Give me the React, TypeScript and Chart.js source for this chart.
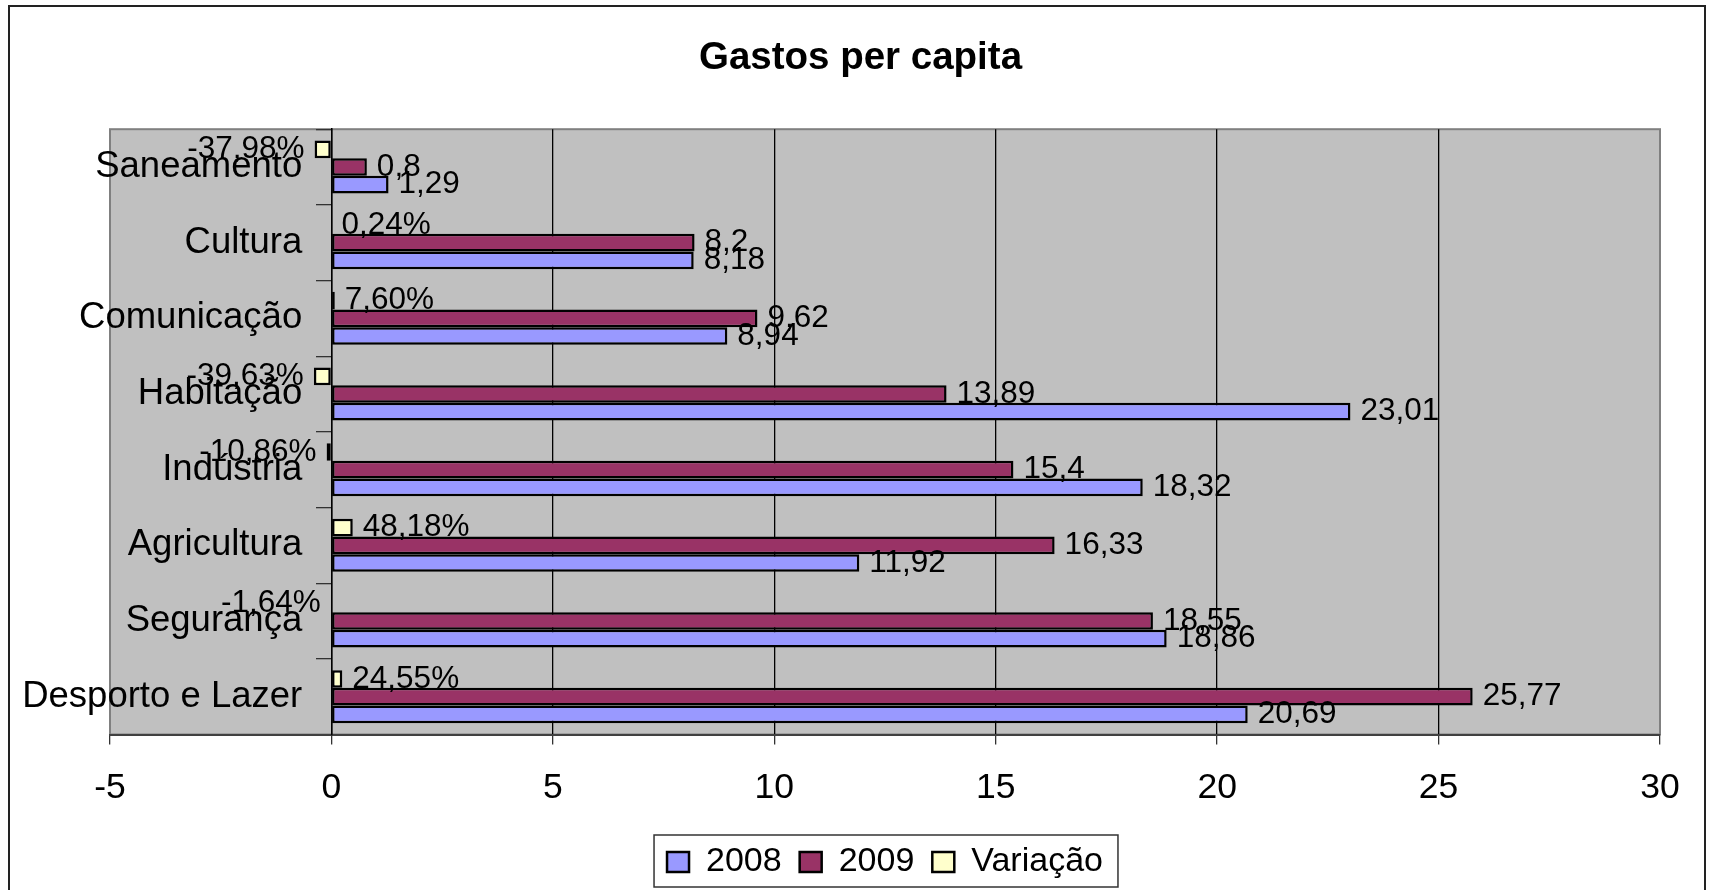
import React, { useEffect, useRef } from 'react';
import { Chart, registerables } from 'chart.js';

Chart.register(...registerables);

const categories = ['Saneamento', 'Cultura', 'Comunicação', 'Habitação', 'Indústria', 'Agricultura', 'Segurança', 'Desporto e Lazer'];
const values2008 = [1.29, 8.18, 8.94, 23.01, 18.32, 11.92, 18.86, 20.69];
const values2009 = [0.8, 8.2, 9.62, 13.89, 15.4, 16.33, 18.55, 25.77];
const variacao = [-0.3798, 0.0024, 0.076, -0.3963, -0.1086, 0.4818, -0.0164, 0.2455];
const xMin = -5;
const xMax = 30;
const xStep = 5;

const FONT = '"Liberation Sans", Arial, Helvetica, sans-serif';

const fmtNum = (v: number) => String(v).replace('.', ',');
const fmtPct = (v: number) => (v * 100).toFixed(2).replace('.', ',') + '%';

const backgroundPlugin = {
  id: 'plotBackground',
  beforeDraw(chart: any) {
    const { ctx, chartArea: a } = chart;
    ctx.save();
    ctx.fillStyle = '#ffffff';
    ctx.fillRect(0, 0, chart.width, chart.height);
    ctx.fillStyle = '#C0C0C0';
    ctx.fillRect(a.left, a.top, a.right - a.left, a.bottom - a.top);
    ctx.strokeStyle = '#808080';
    ctx.lineWidth = 2;
    ctx.strokeRect(a.left, a.top, a.right - a.left, a.bottom - a.top);
    ctx.strokeStyle = '#222222';
    ctx.lineWidth = 2;
    ctx.strokeRect(9, 6, 1696, chart.height + 40);
    ctx.restore();
  },
};

const legendBoxPlugin = {
  id: 'legendBox',
  afterDraw(chart: any) {
    const lg = chart.legend;
    if (!lg || !lg.legendHitBoxes || !lg.legendHitBoxes.length) return;
    const boxes = lg.legendHitBoxes;
    let minL = Infinity;
    let maxR = -Infinity;
    let cy = 0;
    boxes.forEach((b: any) => {
      minL = Math.min(minL, b.left);
      maxR = Math.max(maxR, b.left + b.width);
      cy = b.top + b.height / 2;
    });
    const ctx = chart.ctx;
    ctx.save();
    ctx.strokeStyle = '#333333';
    ctx.lineWidth = 1.5;
    ctx.strokeRect(minL - 13, cy - 27, maxR - minL + 28, 52);
    ctx.restore();
  },
};

const dataLabelPlugin = {
  id: 'dataLabels',
  afterDatasetsDraw(chart: any) {
    const ctx = chart.ctx;
    ctx.save();
    ctx.font = `31.5px ${FONT}`;
    ctx.fillStyle = '#000000';
    ctx.textBaseline = 'middle';
    chart.data.datasets.forEach((ds: any, di: number) => {
      const meta = chart.getDatasetMeta(di);
      meta.data.forEach((el: any, i: number) => {
        const v = ds.data[i] as number;
        const txt = ds.label === 'Variação' ? fmtPct(v) : fmtNum(v);
        const { x, y } = el.getProps(['x', 'y'], true);
        if (v >= 0) {
          ctx.textAlign = 'left';
          ctx.fillText(txt, x + 10, y);
        } else {
          ctx.textAlign = 'right';
          ctx.fillText(txt, x - 10, y);
        }
      });
    });
    ctx.restore();
  },
};

export default function App() {
  const canvasRef = useRef<HTMLCanvasElement | null>(null);

  useEffect(() => {
    if (!canvasRef.current) return;
    const chart = new Chart(canvasRef.current, {
      type: 'bar',
      data: {
        labels: categories,
        datasets: [
          { label: 'Variação', data: variacao, backgroundColor: '#FFFFCC', borderColor: '#000000', borderWidth: 2.5, borderSkipped: false },
          { label: '2009', data: values2009, backgroundColor: '#993366', borderColor: '#000000', borderWidth: 2.5, borderSkipped: false },
          { label: '2008', data: values2008, backgroundColor: '#9999FF', borderColor: '#000000', borderWidth: 2.5, borderSkipped: false },
        ],
      },
      options: {
        indexAxis: 'y',
        responsive: false,
        animation: false,
        devicePixelRatio: 1,
        categoryPercentage: 0.7,
        barPercentage: 1.0,
        layout: { padding: { left: 61, right: 49, top: 0, bottom: 1 } },
        scales: {
          x: {
            type: 'linear',
            min: xMin,
            max: xMax,
            ticks: {
              stepSize: xStep,
              font: { family: FONT, size: 35.5 },
              color: '#000000',
              padding: 22,
              callback: (v: any) => String(v),
            },
            grid: {
              color: (c: any) => (c.tick && (c.tick.value === xMin || c.tick.value === xMax) ? '#808080' : '#000000'),
              lineWidth: 1.3,
              tickLength: 10,
              tickColor: '#333333',
            },
            border: { color: '#404040', width: 2 },
            afterFit: (s: any) => {
              s.height = 92.5;
            },
          },
          y: {
            type: 'category',
            position: { x: 0 },
            offset: true,
            grid: { offset: true, drawOnChartArea: false, tickLength: 15, color: '#333333', lineWidth: 1.3 },
            border: { display: true, color: '#000000', width: 1.5 },
            ticks: { display: false },
          },
          yLabels: {
            type: 'category',
            axis: 'y',
            position: { x: -0.66 },
            offset: true,
            grid: { display: false, drawTicks: false },
            border: { display: false },
            ticks: { font: { family: FONT, size: 36.5 }, color: '#000000', padding: 0 },
          },
          yPad: {
            type: 'linear',
            axis: 'y',
            position: 'left',
            grid: { display: false },
            border: { display: false },
            ticks: { display: false },
            afterFit: (s: any) => {
              s.width = 49;
            },
          },
        } as any,
        plugins: {
          title: {
            display: true,
            text: 'Gastos per capita',
            color: '#000000',
            font: { family: FONT, size: 38.5, weight: 'bold' },
            padding: { top: 35, bottom: 48 },
          },
          legend: {
            position: 'bottom',
            fullSize: false,
            reverse: true,
            labels: {
              font: { family: FONT, size: 34 },
              color: '#000000',
              boxWidth: 22,
              boxHeight: 20,
              padding: 18,
            },
          },
          tooltip: { enabled: false },
        },
      } as any,
      plugins: [backgroundPlugin, dataLabelPlugin, legendBoxPlugin],
    });
    return () => chart.destroy();
  }, []);

  return (
    <div style={{ position: 'fixed', left: 0, top: 0, width: 1709, height: 890, overflow: 'hidden', background: '#fff' }}>
      <canvas ref={canvasRef} width={1709} height={890} style={{ display: 'block' }} />
    </div>
  );
}
